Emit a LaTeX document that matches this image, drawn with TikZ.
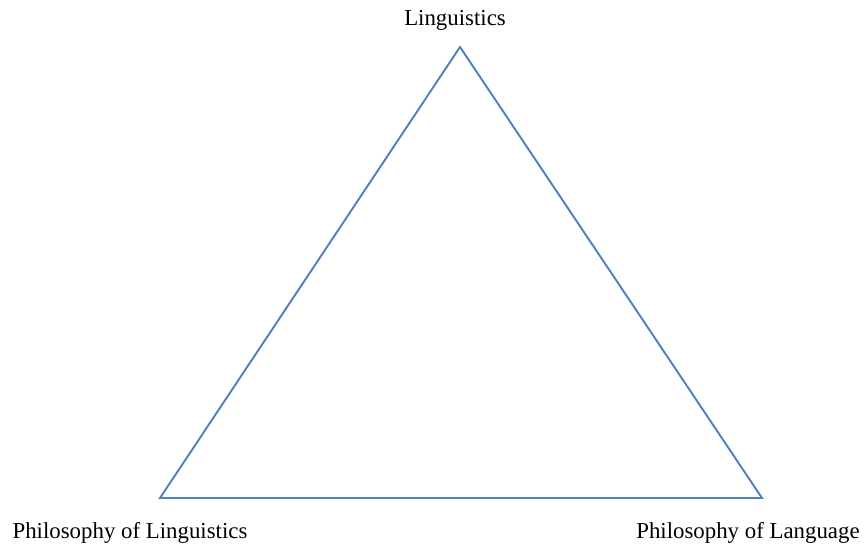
\documentclass[tikz,border=0pt]{standalone}
\usepackage{fontspec}
\setmainfont{Liberation Serif}
\usetikzlibrary{positioning}
\definecolor{officeblue}{RGB}{79, 129, 189}
\tikzset{
  corner label/.style={
    anchor=base,
    inner sep=0pt,
    font=\fontsize{13pt}{15pt}\selectfont
  },
  side/.style={
    draw=officeblue,
    line width=1.1pt,
    line join=miter
  }
}
\begin{document}
\begin{tikzpicture}[x=0.02cm, y=-0.02cm]
            \useasboundingbox (0, 0) rectangle (865, 545);
            \coordinate (top) at (460, 47);
            \coordinate (left) at (160, 498);
            \coordinate (right) at (762, 498);
            \draw[side] (top) -- (left) -- (right) -- cycle;
            \node[corner label] (ling) at (455, 25) {Linguistics};
            \node[corner label] (philling) at (130, 538) {Philosophy of Linguistics};
            \node[corner label] (phillang) at (748, 538) {Philosophy of Language};
          \end{tikzpicture}
\end{document}
